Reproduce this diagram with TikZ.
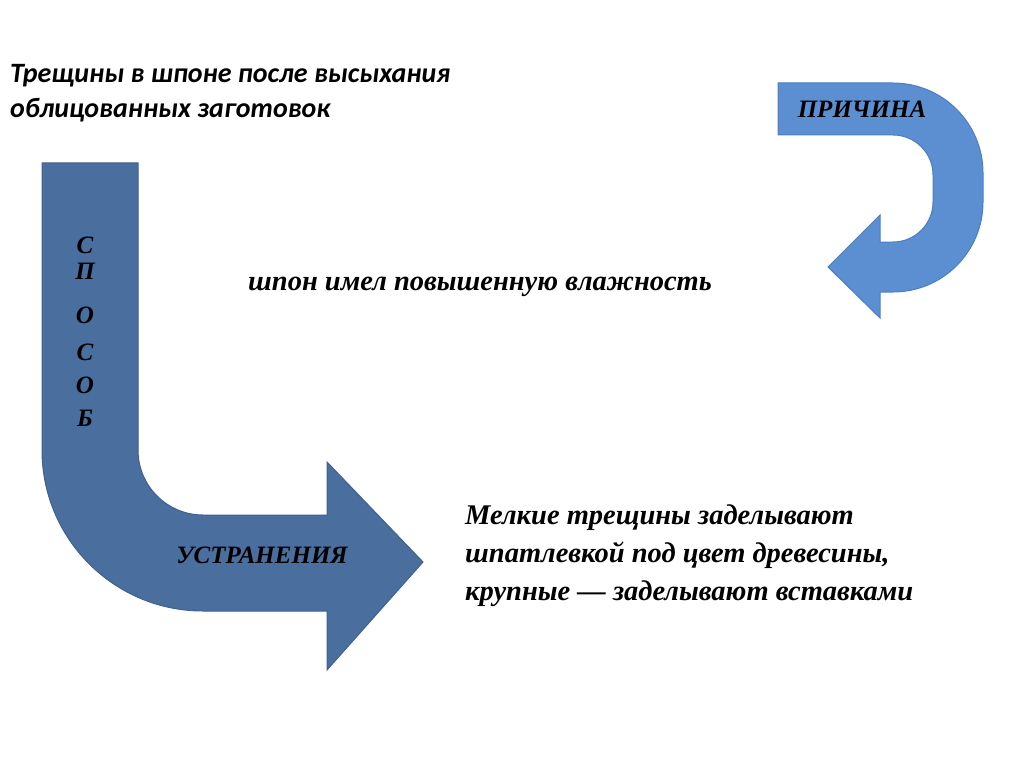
\documentclass[tikz,border=0pt]{standalone}
\usepackage{fontspec}
\setmainfont{Liberation Serif}
\newfontfamily\calibri{Carlito}
\definecolor{darkarrow}{HTML}{4A6E9E}
\definecolor{darkedge}{HTML}{3F6190}
\definecolor{lightarrow}{HTML}{5B8FD2}
\definecolor{lightedge}{HTML}{4C7EC0}
\tikzset{
  bigarrow/.style={fill=darkarrow, draw=darkedge, line width=1pt, line join=miter},
  smallarrow/.style={fill=lightarrow, draw=lightedge, line width=1pt, line join=miter},
  serifbi/.style={font=\fontsize{25}{38}\selectfont\bfseries\itshape, inner sep=0pt},
  bodytext/.style={font=\fontsize{28.5}{38}\selectfont\bfseries\itshape, inner sep=0pt},
  titletext/.style={font=\calibri\fontsize{28}{35}\selectfont\bfseries\itshape, inner sep=0pt, align=left},
}
\begin{document}
\begin{tikzpicture}[x=1pt,y=-1pt]
\useasboundingbox (0,0) rectangle (1024,767);
% left bent arrow
\draw[bigarrow] (42,163) -- (138,163) -- (138,450) arc[start angle=180, end angle=90, radius=65]
  -- (327,515) -- (327,462) -- (423,562) -- (327,670) -- (327,611) -- (203,611)
  arc[start angle=90, end angle=180, radius=161] -- cycle;
% right U-turn arrow
\draw[smallarrow] (778,83) -- (893,83) arc[start angle=-90, end angle=0, radius=90]
  -- (983,202) arc[start angle=0, end angle=90, radius=90]
  -- (880,292) -- (880,318) -- (828,267) -- (880,215) -- (880,242) -- (893,242)
  arc[start angle=90, end angle=0, radius=40] -- (933,175)
  arc[start angle=0, end angle=-90, radius=40] -- (778,135) -- cycle;
% texts
\node[titletext, anchor=base west] (title) at (10,118) {Трещины в шпоне после высыхания\\облицованных заготовок};
\node[serifbi, anchor=center] (prich) at (862,109) {ПРИЧИНА};
\node[serifbi, anchor=center] (s1) at (85,245) {С};
\node[serifbi, anchor=center] (s2) at (85,271) {П};
\node[serifbi, anchor=center] (s3) at (85,315) {О};
\node[serifbi, anchor=center] (s4) at (85,352) {С};
\node[serifbi, anchor=center] (s5) at (85,385) {О};
\node[serifbi, anchor=center] (s6) at (85,418) {Б};
\node[serifbi, anchor=center] (ustr) at (262,555) {УСТРАНЕНИЯ};
\node[bodytext, anchor=base west] (shpon) at (248,290) {шпон имел повышенную влажность};
\node[bodytext, anchor=base west, align=left] (fix) at (465,600) {Мелкие трещины заделывают\\шпатлевкой под цвет древесины,\\крупные — заделывают вставками};
\end{tikzpicture}
\end{document}
